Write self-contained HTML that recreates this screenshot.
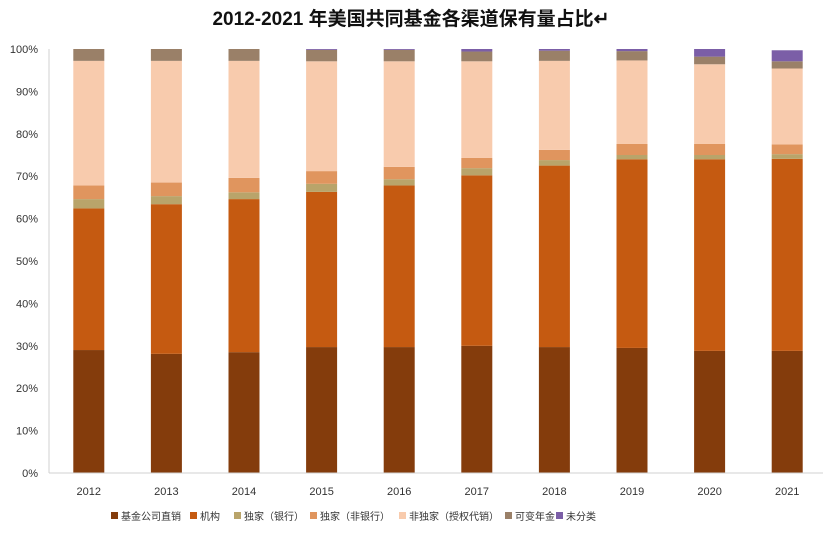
<!DOCTYPE html>
<html><head><meta charset="utf-8"><style>
body{margin:0;background:#fff;}
svg text{font-family:"Liberation Sans","Noto Sans CJK SC",sans-serif;}
</style></head><body>
<svg id="chart" width="823" height="532" xmlns="http://www.w3.org/2000/svg">
<text x="411" y="25" text-anchor="middle" font-size="19" font-weight="bold" fill="#111">2012-2021 年美国共同基金各渠道保有量占比↵</text>
<g id="grid"></g><g id="bars"></g><g id="axes"></g><g id="legend"></g>
</svg>
<script>
const categories=["2012","2013","2014","2015","2016","2017","2018","2019","2020","2021"];
const seriesNames=["基金公司直销","机构","独家（银行）","独家（非银行）","非独家（授权代销）","可变年金","未分类"];
const direct=[29.0,28.1,28.5,29.7,29.7,30.0,29.7,29.5,28.8,28.8];
const institution=[33.4,35.3,36.1,36.6,38.1,40.2,42.8,44.5,45.2,45.3];
const bankExcl=[2.2,1.9,1.6,1.9,1.5,1.7,1.3,1.0,1.0,1.1];
const nonBankExcl=[3.2,3.2,3.4,3.0,2.9,2.4,2.4,2.6,2.6,2.3];
const nonExcl=[29.4,28.7,27.6,25.9,24.9,22.8,21.0,19.7,18.8,17.9];
const annuity=[2.8,2.8,2.8,2.7,2.7,2.3,2.4,2.2,1.8,1.7];
const unclassified=[0,0,0,0.2,0.2,0.6,0.4,0.5,1.8,2.6];
const yTicks=[0,10,20,30,40,50,60,70,80,90,100];
const series=[direct,institution,bankExcl,nonBankExcl,nonExcl,annuity,unclassified];
const colors=["#843c0c","#c55a11","#b9a46a","#e0955e","#f8cbad","#9a8068","#7b5ea7"];
const NS="http://www.w3.org/2000/svg";
const x0=49,x1=825,y0=473,y1=49;
const y=v=>y0-(v/100)*(y0-y1);
const band=(x1-x0)/categories.length;
const xc=i=>x0+band*(i+0.5)+1;
const bw=31;
function mk(t,a,p){const e=document.createElementNS(NS,t);for(const k in a)e.setAttribute(k,a[k]);p.appendChild(e);return e;}
const axes=document.getElementById('axes'),bars=document.getElementById('bars'),legend=document.getElementById('legend');
yTicks.forEach(t=>{const tx=mk('text',{x:38,y:y(t)+4,'text-anchor':'end','font-size':11,fill:'#333'},axes);tx.textContent=t+'%';

});
const ya=mk('line',{x1:x0,y1:y1,x2:x0,y2:y0,stroke:'#d0d0d0','stroke-width':1},axes);


const xa=mk('line',{x1:x0,y1:y0,x2:x1,y2:y0,stroke:'#d0d0d0','stroke-width':1},axes);


categories.forEach((c,i)=>{
  const tx=mk('text',{x:xc(i),y:495,'text-anchor':'middle','font-size':11,fill:'#333'},axes);tx.textContent=c;
  
  
  let cum=0;
  series.forEach((s,j)=>{
    const v=s[i];if(v<=0){return;}
    const r=mk('rect',{x:xc(i)-bw/2,y:y(cum+v),width:bw,height:y(cum)-y(cum+v),fill:colors[j]},bars);
    
    
    cum+=v;
  });
});
const lx=[114,193,237,313,402,508,559];
seriesNames.forEach((n,j)=>{
  const g=mk('g',{},legend);
  
  
  mk('rect',{x:lx[j]-3,y:512,width:7,height:7,fill:colors[j]},g);
  const t=mk('text',{x:lx[j]+7,y:520,'font-size':10,fill:'#333'},g);t.textContent=n;
});
</script>
</body></html>
